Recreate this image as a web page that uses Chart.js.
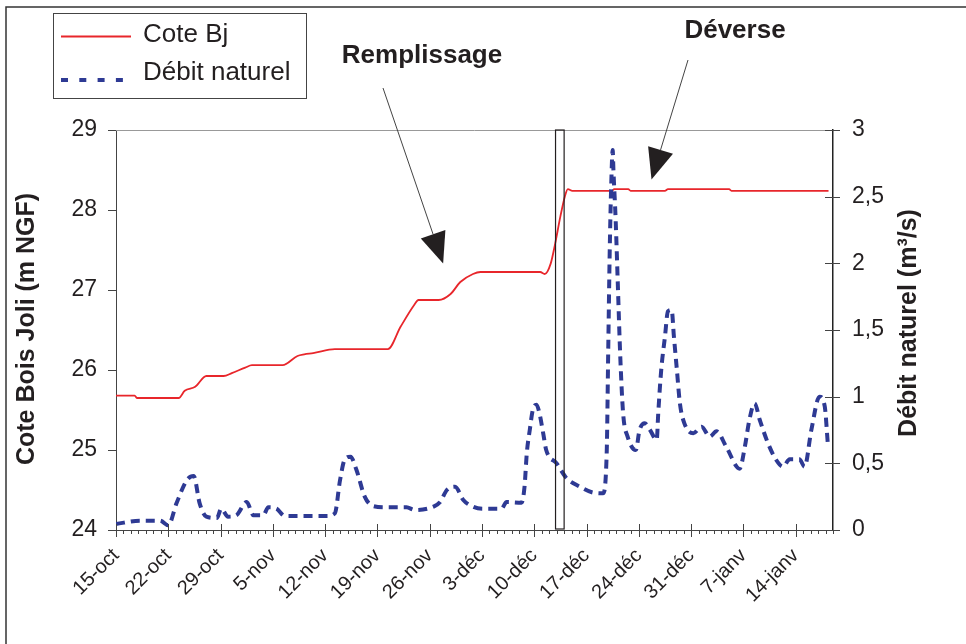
<!DOCTYPE html>
<html>
<head>
<meta charset="utf-8">
<title>Cote Bois Joli / Débit naturel</title>
<script src="https://cdn.jsdelivr.net/npm/chart.js@4/dist/chart.umd.min.js"></script>
<style>
    html, body { margin: 0; padding: 0; background: #fff; }
    canvas { display: block; }
</style>
</head>
<body>
<canvas id="chart" width="966" height="644"></canvas>
<script>
// Day 0 = 15 octobre
const tickLabels = ['15-oct', '22-oct', '29-oct', '5-nov', '12-nov', '19-nov', '26-nov',
    '3-déc', '10-déc', '17-déc', '24-déc', '31-déc', '7-janv', '14-janv'];

// Cote Bj (m NGF)
const coteDays = [0, 2.5, 2.8, 8.4, 9.2, 10.6, 12.1, 14.4, 15.5, 17.3, 18.2, 22.3, 24.3, 25.2,
    26.4, 29.3, 36.4, 38.1, 39.9, 40.5, 43.2, 44.8, 46.1, 47.8, 48.8, 56.8, 57.4, 58.2, 58.8,
    59.5, 60.1, 60.5, 61.1, 66.4, 66.7, 68.6, 68.9, 73.5, 73.9, 82.1, 82.4, 95.4];
const coteValues = [25.68, 25.68, 25.65, 25.65, 25.74, 25.79, 25.925, 25.925, 25.96, 26.03,
    26.06, 26.06, 26.175, 26.195, 26.21, 26.26, 26.26, 26.54, 26.81, 26.875, 26.875, 26.95,
    27.10, 27.2, 27.225, 27.225, 27.2, 27.33, 27.58, 27.92, 28.17, 28.26, 28.24, 28.24, 28.26,
    28.26, 28.24, 28.24, 28.26, 28.26, 28.24, 28.24];

// Débit naturel (m3/s)
const debitDays = [0, 3.2, 5.9, 7.0, 8.1, 9.5, 10.4, 11.2, 12.1, 13.5, 14.1, 15.0, 16.1, 17.5,
    18.4, 19.7, 20.4, 21.5, 22.6, 28.2, 29.3, 30.0, 30.6, 31.4, 32.2, 33.3, 34.4, 36.2, 38.9,
    40.0, 42.5, 43.4, 44.3, 45.4, 46.5, 47.8, 49.1, 51.6, 52.3, 54.3, 54.7, 55.0, 55.4, 55.8,
    56.3, 56.7, 57.2, 57.6, 59.0, 60.3, 62.1, 63.9, 65.2, 65.7, 65.9, 66.1, 66.3, 66.5, 66.6,
    66.9, 67.2, 67.5, 67.9, 68.5, 69.6, 70.1, 70.8, 71.5, 72.4, 72.6, 73.0, 73.5, 73.9, 74.4,
    74.7, 75.1, 75.5, 76.1, 77.3, 78.4, 79.5, 80.4, 81.7, 83.5, 84.2, 84.8, 85.5, 86.2, 87.3,
    88.4, 89.3, 90.2, 91.5, 92.2, 93.1, 94.2, 94.9, 95.3];
const debitValues = [0.045, 0.07, 0.07, 0.035, 0.2, 0.375, 0.405, 0.2, 0.1, 0.09, 0.16, 0.1,
    0.11, 0.21, 0.11, 0.11, 0.17, 0.16, 0.105, 0.105, 0.125, 0.375, 0.525, 0.55, 0.45, 0.25,
    0.18, 0.17, 0.17, 0.15, 0.175, 0.21, 0.3, 0.325, 0.225, 0.175, 0.16, 0.16, 0.21, 0.205,
    0.325, 0.575, 0.75, 0.9, 0.94, 0.875, 0.725, 0.6, 0.5, 0.39, 0.325, 0.28, 0.275, 0.575,
    1.325, 2.075, 2.575, 2.85, 2.7, 2.325, 1.825, 1.325, 0.875, 0.7, 0.6, 0.75, 0.8, 0.75,
    0.675, 0.875, 1.2, 1.45, 1.64, 1.65, 1.45, 1.2, 0.95, 0.8, 0.725, 0.775, 0.7, 0.74, 0.625,
    0.46, 0.625, 0.825, 0.95, 0.825, 0.65, 0.525, 0.475, 0.53, 0.53, 0.475, 0.75, 1.0, 0.925,
    0.65];

// Period shown as a box (days)
const boxDays = [58.85, 60.0];

const FONT = '"Liberation Sans", Arial, Helvetica, sans-serif';
const INK = '#231f20';
const RED = '#e8262b';
const BLUE = '#2e3a94';

function toPoints(xs, ys) {
    return xs.map((x, i) => ({ x: x, y: ys[i] }));
}

function arrow(ctx, fromX, fromY, tipX, tipY) {
    // thin shaft with a big filled head
    const ang = Math.atan2(tipY - fromY, tipX - fromX);
    const len = 31, half = 13;
    const bx = tipX - len * Math.cos(ang), by = tipY - len * Math.sin(ang);
    ctx.strokeStyle = '#444';
    ctx.lineWidth = 1;
    ctx.beginPath();
    ctx.moveTo(fromX, fromY);
    ctx.lineTo(bx, by);
    ctx.stroke();
    ctx.fillStyle = INK;
    ctx.beginPath();
    ctx.moveTo(tipX, tipY);
    ctx.lineTo(bx + half * Math.sin(ang), by - half * Math.cos(ang));
    ctx.lineTo(bx - half * Math.sin(ang), by + half * Math.cos(ang));
    ctx.closePath();
    ctx.fill();
}

const decorPlugin = {
    id: 'decor',
    beforeDraw: function(chart) {
        const ctx = chart.ctx;
        ctx.save();
        ctx.fillStyle = '#fff';
        ctx.fillRect(0, 0, chart.width, chart.height);
        ctx.restore();
    },
    afterDraw: function(chart) {
        const ctx = chart.ctx;
        const area = chart.chartArea;
        const x = chart.scales.x, y = chart.scales.y, y2 = chart.scales.y2;
        ctx.save();

        // outer frame (left and top only, the rest is cropped)
        ctx.strokeStyle = '#333';
        ctx.lineWidth = 1.5;
        ctx.beginPath();
        ctx.moveTo(6, chart.height);
        ctx.lineTo(6, 7);
        ctx.lineTo(chart.width, 7);
        ctx.stroke();

        // top border of plot
        ctx.strokeStyle = '#999';
        ctx.lineWidth = 1;
        ctx.beginPath();
        ctx.moveTo(area.left, area.top + 0.5);
        ctx.lineTo(area.right, area.top + 0.5);
        ctx.stroke();

        // tick marks
        ctx.strokeStyle = '#444';
        ctx.beginPath();
        for (let d = 0; d <= x.max; d++) {
            const px = Math.round(x.getPixelForValue(d)) + 0.5;
            if (d % 7 === 0) {
                ctx.moveTo(px, area.bottom - 6);
                ctx.lineTo(px, area.bottom + 7);
            } else {
                ctx.moveTo(px, area.bottom);
                ctx.lineTo(px, area.bottom + 4);
            }
        }
        y.ticks.forEach(t => {
            const py = Math.round(y.getPixelForValue(t.value)) + 0.5;
            ctx.moveTo(area.left - 8, py);
            ctx.lineTo(area.left, py);
        });
        y2.ticks.forEach(t => {
            const py = Math.round(y2.getPixelForValue(t.value)) + 0.5;
            ctx.moveTo(area.right - 8, py);
            ctx.lineTo(area.right + 7, py);
        });
        ctx.stroke();

        // box around the filling end
        const b0 = x.getPixelForValue(boxDays[0]), b1 = x.getPixelForValue(boxDays[1]);
        ctx.strokeStyle = INK;
        ctx.lineWidth = 1.2;
        ctx.strokeRect(b0, area.top, b1 - b0, area.bottom - area.top - 1);

        // annotations
        ctx.fillStyle = INK;
        ctx.font = 'bold 26px ' + FONT;
        ctx.textAlign = 'center';
        ctx.textBaseline = 'alphabetic';
        ctx.fillText('Remplissage', 422, 63);
        ctx.fillText('Déverse', 735, 38);
        arrow(ctx, 383, 88, x.getPixelForValue(43.8), y.getPixelForValue(27.33));
        arrow(ctx, 688, 60, x.getPixelForValue(71.7), y.getPixelForValue(28.38));

        // axis titles
        ctx.font = 'bold 25px ' + FONT;
        ctx.textBaseline = 'middle';
        ctx.save();
        ctx.translate(27, 329);
        ctx.rotate(-Math.PI / 2);
        ctx.fillText('Cote Bois Joli (m NGF)', 0, 0);
        ctx.restore();
        ctx.save();
        ctx.translate(909, 323);
        ctx.rotate(-Math.PI / 2);
        ctx.fillText('Débit naturel (m³/s)', 0, 0);
        ctx.restore();

        // legend
        const sets = chart.data.datasets;
        ctx.strokeStyle = '#444';
        ctx.lineWidth = 1;
        ctx.strokeRect(53.5, 13.5, 253, 85);
        ctx.font = '26px ' + FONT;
        ctx.textAlign = 'left';
        ctx.textBaseline = 'alphabetic';
        const rows = [{ ds: sets[1], y: 36.5, base: 42, dash: [] },
                      { ds: sets[0], y: 80, base: 80, dash: [7, 11.3] }];
        rows.forEach(r => {
            ctx.strokeStyle = r.ds.borderColor;
            ctx.lineWidth = r.ds.borderWidth;
            ctx.setLineDash(r.dash);
            ctx.beginPath();
            ctx.moveTo(61, r.y);
            ctx.lineTo(131, r.y);
            ctx.stroke();
            ctx.setLineDash([]);
            ctx.fillStyle = INK;
            ctx.fillText(r.ds.label, 143, r.base);
        });

        ctx.restore();
    }
};

const noGrid = { display: false, drawTicks: false };

new Chart(document.getElementById('chart'), {
    type: 'line',
    data: {
        datasets: [{
            label: 'Débit naturel',
            data: toPoints(debitDays, debitValues),
            yAxisID: 'y2',
            borderColor: BLUE,
            borderWidth: 4,
            borderDash: [9, 6],
            pointRadius: 0,
            cubicInterpolationMode: 'monotone',
            order: 0
        }, {
            label: 'Cote Bj',
            data: toPoints(coteDays, coteValues),
            yAxisID: 'y',
            borderColor: RED,
            borderWidth: 1.8,
            pointRadius: 0,
            cubicInterpolationMode: 'monotone',
            order: 1
        }]
    },
    options: {
        responsive: false,
        animation: false,
        layout: { padding: { top: 130, left: 0, right: 0, bottom: 0 } },
        plugins: {
            legend: { display: false },
            tooltip: { enabled: false }
        },
        scales: {
            x: {
                type: 'linear',
                min: 0,
                max: 96,
                afterBuildTicks: function(scale) {
                    scale.ticks = tickLabels.map((_, i) => ({ value: i * 7 }));
                },
                afterFit: function(scale) { scale.height = 114; },
                ticks: {
                    autoSkip: false,
                    maxRotation: 45,
                    minRotation: 45,
                    padding: 14,
                    color: INK,
                    font: { family: FONT, size: 20 },
                    callback: function(value) { return tickLabels[Math.round(value / 7)]; }
                },
                grid: noGrid,
                border: { color: '#444', width: 1 }
            },
            y: {
                position: 'left',
                min: 24,
                max: 29,
                afterFit: function(scale) { scale.width = 116; },
                ticks: {
                    stepSize: 1,
                    padding: 19,
                    color: INK,
                    font: { family: FONT, size: 23 }
                },
                grid: noGrid,
                border: { color: '#444', width: 1 }
            },
            y2: {
                position: 'right',
                min: 0,
                max: 3,
                afterFit: function(scale) { scale.width = 133; },
                ticks: {
                    stepSize: 0.5,
                    padding: 19,
                    color: INK,
                    font: { family: FONT, size: 23 },
                    callback: function(value) { return String(value).replace('.', ','); }
                },
                grid: noGrid,
                border: { color: '#222', width: 1.5 }
            }
        }
    },
    plugins: [decorPlugin]
});
</script>
</body>
</html>
